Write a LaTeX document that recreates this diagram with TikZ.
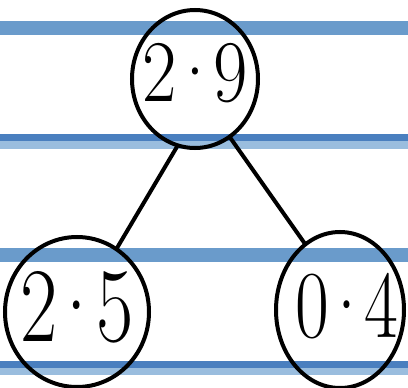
\documentclass[tikz,border=0pt]{standalone}
\usepackage{tikz}
\usetikzlibrary{shapes.geometric}
\definecolor{ruleMid}{HTML}{6A9BCB}
\definecolor{ruleDark}{HTML}{4A7FBF}
\definecolor{ruleLight}{HTML}{9ABDDE}
\newcommand{\tightdot}{\kern-0.12em·\kern-0.12em}
\begin{document}
\begin{tikzpicture}[
    x=1pt, y=-1pt,
    bubble/.style={draw, ellipse, line width=4pt, inner sep=0pt},
    digits/.style={font=\fontsize{88}{88}\selectfont, inner sep=0pt, xscale=0.85},
    branch/.style={line width=4pt, line cap=round}
]
  \useasboundingbox (0,0) rectangle (408,388);
  % ruled paper
  \fill[ruleMid] (0,21) rectangle (408,35);
  \fill[ruleDark] (0,134) rectangle (408,141);
  \fill[ruleLight] (0,141) rectangle (408,149);
  \fill[ruleMid] (0,248) rectangle (408,262);
  \fill[ruleDark] (0,361) rectangle (408,368);
  \fill[ruleLight] (0,368) rectangle (408,375);

  % tree
  \node[bubble, minimum width=126pt, minimum height=138pt] (root) at (195,79) {};
  \node[bubble, minimum width=144pt, minimum height=150pt] (left) at (77,312) {};
  \node[bubble, minimum width=128pt, minimum height=156pt] (right) at (340,310) {};
  \node[digits] at ([yshift=6pt]root.center) {2\tightdot9};
  \node[digits, font=\fontsize{106}{106}\selectfont, xscale=0.9] at ([yshift=5pt]left.center) {2\tightdot5};
  \node[digits, font=\fontsize{96}{96}\selectfont, xscale=0.9] at ([xshift=7pt,yshift=4pt]right.center) {0\tightdot4};

  \draw[branch] (root.-105) -- (left.58);
  \draw[branch] (root.-59) -- (right.118);
\end{tikzpicture}
\end{document}
